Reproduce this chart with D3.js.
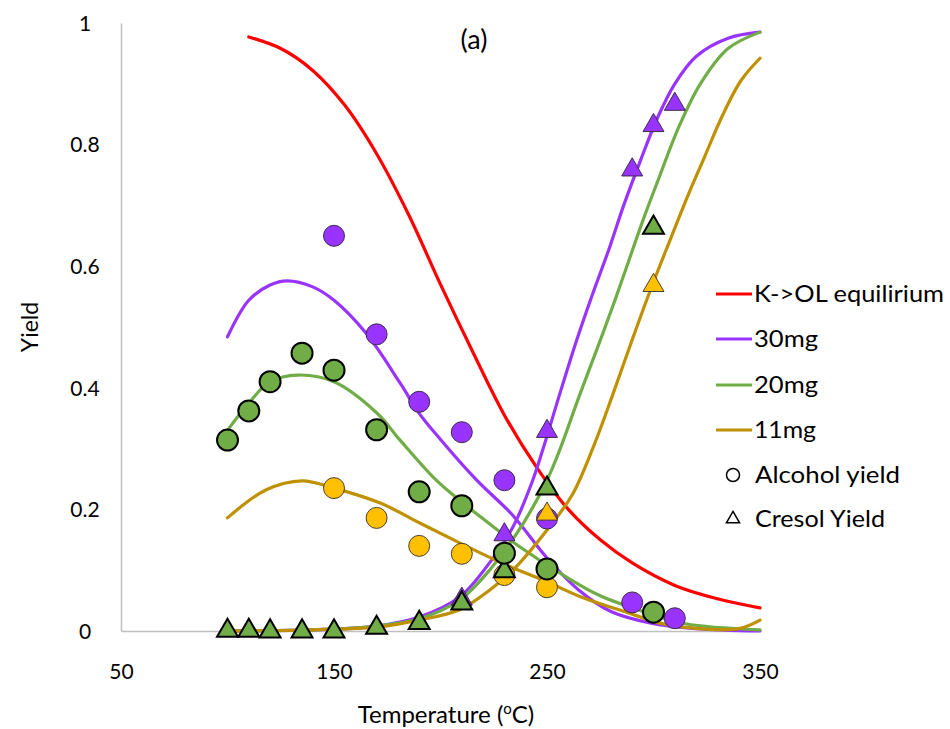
<!DOCTYPE html>
<html>
<head>
<meta charset="utf-8">
<script src="https://cdn.jsdelivr.net/npm/d3@7"></script>
<style>
  html, body { margin: 0; padding: 0; background: #fff; }
  svg { display: block; font-family: Lato, "Open Sans", sans-serif; }
</style>
</head>
<body>
<svg id="chart" width="950" height="729"></svg>
<script>
// Model curves (temperature in °C, yield)
const eqT  = [110, 125, 140, 155, 170, 185, 200, 215, 230, 245, 260, 275, 290, 310, 330, 350];
const eqY  = [0.977, 0.958, 0.922, 0.865, 0.785, 0.685, 0.57, 0.46, 0.355, 0.27, 0.2, 0.15, 0.112, 0.075, 0.053, 0.038];

const alc30T = [100, 110, 120, 128, 140, 150, 165, 181, 190, 200, 217, 234, 250, 265, 280, 300, 320, 350];
const alc30Y = [0.484, 0.544, 0.569, 0.576, 0.566, 0.544, 0.49, 0.408, 0.358, 0.315, 0.248, 0.19, 0.12, 0.067, 0.032, 0.012, 0.004, 0.0];
const alc20T = [100, 110, 120, 133, 150, 170, 181, 198, 210, 218, 237, 259, 275, 297, 315, 350];
const alc20Y = [0.33, 0.375, 0.41, 0.421, 0.41, 0.359, 0.314, 0.248, 0.212, 0.19, 0.139, 0.089, 0.058, 0.03, 0.012, 0.002];
const alc11T = [100, 118, 135, 150, 172, 190, 209, 230, 250, 266, 288, 303, 318, 340, 350];
const alc11Y = [0.186, 0.232, 0.247, 0.235, 0.21, 0.178, 0.145, 0.11, 0.081, 0.056, 0.03, 0.013, 0.005, 0.004, 0.018];

const cre30T = [100, 130, 150, 170, 190, 209, 223, 234, 243, 248, 256, 264, 272, 279, 286, 294, 302, 310, 320, 335, 350];
const cre30Y = [0.0, 0.001, 0.003, 0.008, 0.023, 0.056, 0.112, 0.171, 0.245, 0.298, 0.39, 0.479, 0.56, 0.627, 0.7, 0.775, 0.845, 0.9, 0.945, 0.975, 0.985];
const cre20T = [100, 130, 150, 170, 190, 209, 223, 239, 250, 256, 265, 275, 282, 288, 295, 302, 312, 322, 335, 350];
const cre20Y = [0.0, 0.001, 0.003, 0.008, 0.02, 0.051, 0.1, 0.178, 0.248, 0.298, 0.385, 0.478, 0.545, 0.605, 0.675, 0.74, 0.83, 0.9, 0.958, 0.985];
const cre11T = [100, 130, 150, 172, 190, 209, 223, 234, 250, 262, 272, 281, 290, 299, 308, 316, 324, 332, 341, 350];
const cre11Y = [0.0, 0.001, 0.003, 0.007, 0.018, 0.035, 0.067, 0.1, 0.166, 0.225, 0.305, 0.39, 0.479, 0.565, 0.645, 0.715, 0.78, 0.845, 0.905, 0.942];

// Measured alcohol yields (circles)
const ptAlc30T = [150, 170, 190, 210, 230, 250, 290, 310];
const ptAlc30Y = [0.650, 0.488, 0.377, 0.327, 0.248, 0.185, 0.047, 0.021];
const ptAlc20T = [100, 110, 120, 135, 150, 170, 190, 210, 230, 250, 300];
const ptAlc20Y = [0.314, 0.362, 0.41, 0.457, 0.429, 0.331, 0.229, 0.206, 0.128, 0.102, 0.031];
const ptAlc11T = [150, 170, 190, 210, 230, 250];
const ptAlc11Y = [0.235, 0.186, 0.14, 0.127, 0.092, 0.072];

// Measured cresol yields (triangles)
const ptCre30T = [210, 230, 250, 290, 300, 310];
const ptCre30Y = [0.054, 0.16, 0.33, 0.76, 0.833, 0.868];
const ptCre20T = [100, 110, 120, 135, 150, 170, 190, 210, 230, 250, 300];
const ptCre20Y = [0.002, 0.002, 0.001, 0.001, 0.001, 0.007, 0.015, 0.047, 0.1, 0.236, 0.665];
const ptCre11T = [250, 300];
const ptCre11Y = [0.194, 0.57];

const xTicks = [50, 150, 250, 350];
const yTicks = [0, 0.2, 0.4, 0.6, 0.8, 1];
const legendLabels = ["K->OL equilirium", "30mg", "20mg", "11mg"];
const legendWidths = [190, 64, 64, 62];
const markerLabels = ["Alcohol yield", "Cresol Yield"];
const markerWidths = [145, 130];

const C = { red: "#ff0000", purple: "#9933ff", green: "#70ad47", gold: "#bf9000", yellow: "#ffc000" };

const svg = d3.select("#chart");
const x = d3.scaleLinear().domain([50, 350]).range([121, 760]);
const y = d3.scaleLinear().domain([0, 1]).range([631, 23]);

// Axes
const yAxis = d3.axisLeft(y).tickValues(yTicks).tickSize(0).tickSizeOuter(0)
  .tickFormat(d => d === 0 ? "0" : d === 1 ? "1" : d3.format(".1f")(d));
const gy = svg.append("g").attr("transform", `translate(${x(50)},0)`).call(yAxis);
gy.select(".domain").attr("stroke", "#c0c0c0").attr("stroke-width", 1.5);
gy.selectAll("text").attr("font-size", 21).attr("fill", "#000")
  .attr("text-anchor", "middle").attr("x", -36).attr("dy", "0.35em")
  .style("font-family", "Lato, sans-serif");

const xAxis = d3.axisBottom(x).tickValues(xTicks).tickSize(0).tickSizeOuter(0).tickFormat(d3.format("d"));
const gx = svg.append("g").attr("transform", `translate(0,${y(0)})`).call(xAxis);
gx.select(".domain").attr("stroke", "#c0c0c0").attr("stroke-width", 1.5);
gx.selectAll("text").attr("font-size", 21).attr("fill", "#000")
  .attr("y", 41).attr("dy", "0.35em").style("font-family", "Lato, sans-serif");

// Axis titles
const xt = svg.append("text").attr("x", 446).attr("y", 723).attr("text-anchor", "middle")
  .attr("font-size", 24).attr("fill", "#000");
xt.append("tspan").text("Temperature (");
xt.append("tspan").attr("font-size", 15).attr("dy", -9).text("o");
xt.append("tspan").attr("dy", 9).text("C)");

svg.append("text").attr("transform", "translate(38,327) rotate(-90)")
  .attr("text-anchor", "middle").attr("font-size", 23).attr("fill", "#000").text("Yield");

svg.append("text").attr("x", 474).attr("y", 49).attr("text-anchor", "middle")
  .attr("font-size", 27).attr("fill", "#000").text("(a)");

// Curves
const line = d3.line().x(d => x(d[0])).y(d => y(d[1])).curve(d3.curveCatmullRom.alpha(0.5));
const curves = [
  [eqT, eqY, C.red],
  [alc30T, alc30Y, C.purple], [cre30T, cre30Y, C.purple],
  [alc20T, alc20Y, C.green], [cre20T, cre20Y, C.green],
  [alc11T, alc11Y, C.gold], [cre11T, cre11Y, C.gold]
];
curves.forEach(([T, Y, col]) => {
  svg.append("path").datum(d3.zip(T, Y)).attr("d", line)
    .attr("fill", "none").attr("stroke", col).attr("stroke-width", 3.2)
    .attr("stroke-linecap", "round");
});

// Markers
const tri = d3.symbol().type(d3.symbolTriangle).size(190);
function triangles(T, Y, fill, stroke, sw) {
  svg.append("g").selectAll("path").data(d3.zip(T, Y)).join("path")
    .attr("d", tri).attr("transform", d => `translate(${x(d[0])},${y(d[1]) + 1})`)
    .attr("fill", fill).attr("stroke", stroke).attr("stroke-width", sw);
}
function circles(T, Y, fill, stroke, sw) {
  svg.append("g").selectAll("circle").data(d3.zip(T, Y)).join("circle")
    .attr("cx", d => x(d[0])).attr("cy", d => y(d[1])).attr("r", 10.5)
    .attr("fill", fill).attr("stroke", stroke).attr("stroke-width", sw);
}
triangles(ptCre30T, ptCre30Y, C.purple, "#3a2a4a", 1);
circles(ptAlc30T, ptAlc30Y, C.purple, "#3a2a4a", 1);
triangles(ptCre11T, ptCre11Y, C.yellow, "#4a4030", 1);
circles(ptAlc11T, ptAlc11Y, C.yellow, "#4a4030", 1);
triangles(ptCre20T, ptCre20Y, C.green, "#000", 2);
circles(ptAlc20T, ptAlc20Y, C.green, "#000", 2);

// Legend
const legCols = [C.red, C.purple, C.green, C.gold];
const legY = [294, 339, 385, 430];
legendLabels.forEach((lab, i) => {
  svg.append("line").attr("x1", 716).attr("x2", 752).attr("y1", legY[i]).attr("y2", legY[i])
    .attr("stroke", legCols[i]).attr("stroke-width", 3.2);
  svg.append("text").attr("x", 754).attr("y", legY[i]).attr("dy", "0.36em")
    .attr("font-size", 23).attr("fill", "#000")
    .attr("textLength", legendWidths[i]).attr("lengthAdjust", "spacingAndGlyphs").text(lab);
});
svg.append("circle").attr("cx", 733).attr("cy", 475).attr("r", 6.5)
  .attr("fill", "none").attr("stroke", "#000").attr("stroke-width", 1.5);
svg.append("path").attr("d", d3.symbol().type(d3.symbolTriangle).size(75))
  .attr("transform", "translate(733,519)").attr("fill", "none").attr("stroke", "#000").attr("stroke-width", 1.5);
markerLabels.forEach((lab, i) => {
  svg.append("text").attr("x", 755).attr("y", 475 + i * 44).attr("dy", "0.36em")
    .attr("font-size", 23).attr("fill", "#000")
    .attr("textLength", markerWidths[i]).attr("lengthAdjust", "spacingAndGlyphs").text(lab);
});
</script>
</body>
</html>
